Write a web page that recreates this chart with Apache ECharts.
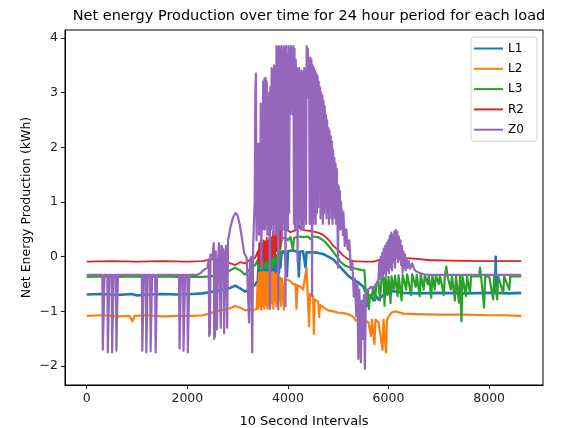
<!DOCTYPE html>
<html>
<head>
<meta charset="utf-8">
<script src="https://cdn.jsdelivr.net/npm/echarts@6/dist/echarts.min.js"></script>
<style>
html,body{margin:0;padding:0;background:#fff;}
#chart{width:583px;height:428px;}
</style>
</head>
<body>
<div id="chart"></div>
<script>
// ---- data (x = 10-second interval index, y = kWh) ----
const seriesNames = ["L1", "L2", "L3", "R2", "Z0"];
const xTicks = [0, 2000, 4000, 6000, 8000];
const yTicks = [-2, -1, 0, 1, 2, 3, 4];

const L1 = [[0,-0.69],[300,-0.68],[600,-0.70],[900,-0.68],[1000,-0.71],[1200,-0.69],[1500,-0.68],[1800,-0.69],[2100,-0.68],[2300,-0.67],[2450,-0.65],[2600,-0.62],[2750,-0.60],[2850,-0.57],[2950,-0.53],[3050,-0.58],[3150,-0.64],[3250,-0.58],[3350,-0.51],
[3400,-0.45],[3415,-0.15],[3430,-0.45],[3445,-0.12],[3460,-0.4],[3475,-0.15],[3490,-0.5],[3505,-0.12],[3520,-0.42],[3535,-0.1],[3550,-0.4],[3565,-0.15],[3580,-0.45],[3595,-0.1],[3610,-0.38],[3625,-0.12],[3640,-0.4],[3655,-0.1],[3670,-0.45],[3685,-0.12],[3700,-0.35],[3715,-0.1],[3730,-0.4],[3745,-0.08],[3760,-0.3],[3775,-0.1],[3790,-0.35],[3805,-0.05],[3820,-0.3],[3835,-0.05],[3850,-0.2],[3870,0.05],
[3900,0.1],[3950,0.05],[3980,-0.35],[4000,0.1],[4100,0.12],[4200,0.08],[4217,-0.36],[4235,0.09],[4300,0.1],[4350,-0.2],[4370,0.08],[4500,0.08],[4600,0.07],[4700,0.05],[4800,0.0],[4900,-0.05],[5000,-0.15],[5100,-0.25],[5200,-0.35],[5300,-0.42],[5400,-0.47],[5500,-0.55],[5550,-0.66],[5600,-0.75],[5650,-0.7],[5700,-0.8],[5750,-0.72],[5800,-0.78],[5900,-0.7],[6000,-0.65],[6100,-0.63],[6300,-0.66],[6600,-0.67],[7000,-0.66],[7500,-0.67],[8000,-0.66],[8120,-0.66],[8130,0.0],[8140,-0.66],[8400,-0.67],[8639,-0.66]];

const L2 = [[0,-1.08],[300,-1.07],[600,-1.09],[850,-1.08],[910,-1.18],[950,-1.08],[1200,-1.07],[1500,-1.09],[1800,-1.08],[2100,-1.08],[2300,-1.07],[2450,-1.04],[2550,-1.0],[2650,-0.98],[2750,-0.97],[2850,-0.94],[2950,-0.9],[3050,-0.93],[3150,-0.98],[3250,-0.97],[3380,-0.96],
[3395,-0.5],[3410,-0.95],[3425,-0.3],[3440,-0.9],[3455,-0.28],[3470,-0.97],[3485,-0.3],[3500,-0.9],[3515,-0.27],[3530,-0.95],[3545,-0.3],[3560,-0.88],[3575,-0.28],[3590,-0.95],[3605,-0.3],[3620,-0.9],[3635,-0.27],[3650,-0.92],[3665,-0.3],[3680,-0.85],[3695,-0.28],[3710,-0.95],[3725,-0.3],[3740,-0.8],[3755,-0.32],[3770,-0.9],[3785,-0.3],[3800,-0.85],[3815,-0.35],[3830,-0.8],[3845,-0.38],[3860,-0.9],[3880,-0.4],
[3900,-0.42],[3920,-0.97],[3940,-0.42],[4000,-0.42],[4050,-0.45],[4100,-0.5],[4150,-0.5],[4170,-0.95],[4190,-0.52],[4250,-0.55],[4300,-0.6],[4370,-0.2],[4390,-0.62],[4420,-1.27],[4440,-0.68],[4500,-0.72],[4514,-1.41],[4530,-0.78],[4600,-0.82],[4620,-1.1],[4640,-0.88],[4700,-0.92],[4800,-0.98],[4900,-1.0],[5000,-1.02],[5100,-1.03],[5200,-1.05],[5300,-1.1],[5350,-1.17],[5450,-1.15],[5500,-1.3],[5520,-1.15],[5600,-1.2],[5650,-1.45],[5670,-1.15],[5720,-1.6],[5740,-1.15],[5800,-1.2],[5880,-1.7],[5900,-1.15],[5950,-1.75],[5970,-1.15],[6000,-1.1],[6060,-1.02],[6140,-1.0],[6300,-1.04],[6600,-1.05],[7000,-1.06],[7500,-1.06],[8000,-1.07],[8300,-1.07],[8639,-1.08]];

const L3 = [[0,-0.37],[300,-0.36],[600,-0.37],[900,-0.36],[1200,-0.37],[1500,-0.36],[1800,-0.37],[2100,-0.37],[2300,-0.37],[2450,-0.36],[2600,-0.34],[2750,-0.31],[2850,-0.25],[2950,-0.2],[3050,-0.25],[3150,-0.33],[3250,-0.22],[3350,-0.15],
[3400,-0.06],[3415,-0.22],[3430,-0.02],[3445,-0.2],[3460,0.0],[3475,-0.24],[3490,-0.03],[3505,-0.18],[3520,0.0],[3535,-0.2],[3550,-0.02],[3565,-0.22],[3580,0.0],[3595,-0.18],[3610,0.02],[3625,-0.2],[3640,0.0],[3655,-0.15],[3670,0.03],[3685,-0.2],[3700,0.0],[3715,-0.15],[3730,0.05],[3745,-0.12],[3760,0.02],[3775,-0.1],[3790,0.05],[3805,-0.1],[3820,0.08],[3835,-0.05],[3850,0.15],[3870,0.3],
[3900,0.34],[3950,0.35],[4000,0.3],[4050,0.36],[4100,0.12],[4120,0.34],[4200,0.37],[4300,0.36],[4400,0.37],[4450,0.32],[4500,0.37],[4600,0.36],[4700,0.3],[4750,0.26],[4850,0.15],[4950,0.03],[5050,-0.1],[5150,-0.17],[5250,-0.2],[5350,-0.22],[5450,-0.24],[5520,-0.25],
[5550,-0.66],[5570,-0.9],[5590,-0.6],[5610,-0.96],[5630,-0.7],[5660,-0.75],[5700,-0.55],[5730,-0.8],[5760,-0.5],[5800,-0.45],[5830,-0.8],[5860,-0.4],[5900,-0.38],[5920,-0.9],[5940,-0.38],[5980,-0.7],[6000,-0.37],[6040,-0.85],[6060,-0.36],[6100,-0.6],[6130,-0.35],[6180,-0.72],[6200,-0.34],[6260,-0.8],[6280,-0.33],[6350,-0.6],[6370,-0.32],[6450,-0.7],[6470,-0.32],[6540,-0.55],[6560,-0.33],[6620,-0.72],[6640,-0.33],[6700,-0.6],[6720,-0.33],[6780,-0.5],[6800,-0.34],[6850,-0.75],[6870,-0.34],[6920,-0.6],[6940,-0.34],[7000,-0.5],[7020,-0.34],[7100,-0.7],[7120,-0.35],[7150,-0.18],[7170,-0.35],[7240,-0.6],[7260,-0.34],[7320,-0.8],[7340,-0.35],[7400,-0.84],[7420,-0.36],[7450,-1.18],[7470,-0.36],[7540,-0.72],[7560,-0.36],[7620,-0.66],[7640,-0.36],[7800,-0.36],[7820,-0.2],[7840,-0.36],[7900,-0.93],[7920,-0.36],[8000,-0.36],[8080,-0.78],[8100,-0.36],[8160,-0.78],[8180,-0.36],[8280,-0.66],[8300,-0.36],[8400,-0.6],[8420,-0.36],[8639,-0.36]];

const R2 = [[0,-0.09],[500,-0.08],[1000,-0.09],[1500,-0.08],[2000,-0.09],[2300,-0.08],[2450,-0.05],[2600,-0.04],[2750,-0.06],[2850,-0.12],[2950,-0.15],[3050,-0.1],[3150,-0.12],[3250,-0.05],[3350,-0.02],
[3400,0.1],[3415,-0.12],[3430,0.25],[3445,-0.1],[3460,0.3],[3475,-0.15],[3490,0.25],[3505,-0.05],[3520,0.3],[3535,-0.1],[3550,0.28],[3565,-0.05],[3580,0.35],[3595,-0.08],[3610,0.3],[3625,0.0],[3640,0.4],[3655,-0.05],[3670,0.35],[3685,0.0],[3700,0.45],[3715,0.05],[3730,0.4],[3745,0.0],[3760,0.5],[3775,0.1],[3790,0.53],[3805,0.05],[3820,0.5],[3835,0.15],[3850,0.55],[3870,0.3],[3890,0.5],
[3950,0.5],[4050,0.45],[4150,0.48],[4217,0.58],[4250,0.5],[4350,0.48],[4475,0.47],[4600,0.44],[4700,0.4],[4800,0.32],[4900,0.2],[5000,0.12],[5100,0.02],[5207,-0.05],[5300,-0.08],[5500,-0.09],[5700,-0.09],[5850,-0.05],[6000,0.0],[6150,-0.02],[6450,-0.03],[6800,-0.06],[7200,-0.07],[7800,-0.08],[8100,-0.08],[8639,-0.08]];

const Z0 = [[0,-0.33],[310,-0.33],[320,-1.7],[345,-1.73],[355,-0.33],[410,-0.33],[420,-1.75],[440,-1.75],[450,-0.33],[495,-0.33],[505,-1.75],[525,-1.75],[535,-0.33],[580,-0.33],[590,-1.72],[610,-1.75],[620,-0.33],
[1095,-0.33],[1105,-1.72],[1125,-1.72],[1135,-0.33],[1175,-0.33],[1185,-1.75],[1205,-1.75],[1215,-0.33],[1260,-0.33],[1270,-1.73],[1290,-1.75],[1300,-0.33],[1360,-0.33],[1370,-1.75],[1390,-1.75],[1400,-0.33],
[1835,-0.33],[1845,-1.68],[1865,-1.7],[1875,-0.33],[1915,-0.33],[1925,-1.72],[1945,-1.75],[1955,-0.33],[2000,-0.33],[2010,-1.75],[2030,-1.75],[2040,-0.33],
[2200,-0.33],[2260,-0.3],[2330,-0.24],[2400,-0.2],[2425,-0.05],[2435,-1.45],[2450,-1.4],[2460,0.04],[2500,0.0],[2525,0.25],[2534,-1.5],[2550,-1.45],[2565,0.1],[2590,-1.33],[2605,-0.2],[2630,0.25],[2665,-1.3],[2680,0.2],[2710,0.13],[2732,-1.4],[2745,0.0],[2770,0.2],[2792,-1.3],[2810,0.3],[2860,0.55],[2910,0.72],[2960,0.8],[3000,0.75],[3040,0.6],[3080,0.37],[3130,0.07],[3180,-0.02],[3227,-1.2],[3245,-0.1],[3270,0.0],[3290,-1.75],[3310,0.25],
[3340,1.0],[3352,3.0],[3364,3.35],[3376,0.3],[3388,1.8],[3400,0.6],[3412,2.07],[3424,0.4],[3436,1.5],[3448,0.8],[3460,2.8],[3472,-0.2],[3484,1.9],[3496,0.7],[3508,3.2],[3520,0.5],[3532,3.25],[3544,0.5],[3556,3.27],[3568,0.6],[3580,3.2],[3592,0.4],[3604,2.9],[3616,0.5],[3628,3.0],[3640,-0.96],[3652,3.1],[3664,0.5],[3676,3.45],[3688,0.6],[3700,3.4],[3712,0.4],[3724,3.5],[3736,0.6],[3748,3.45],[3760,0.4],
[3772,3.85],[3784,0.5],[3796,3.8],[3808,-0.96],[3820,3.85],[3832,0.5],[3844,3.8],[3856,0.6],[3868,3.85],[3880,0.3],[3892,3.75],[3904,0.6],[3916,3.85],[3928,0.5],[3940,3.8],[3952,-0.9],[3964,3.85],[3976,0.6],[3988,3.7],[4000,0.5],[4012,3.85],[4024,0.8],[4036,3.8],[4048,2.6],[4060,3.85],[4072,2.7],[4084,3.8],[4096,2.6],[4108,3.85],[4120,0.6],[4132,3.8],[4144,0.5],[4156,3.6],[4168,0.7],
[4180,3.45],[4192,-0.1],[4204,3.4],[4216,0.6],[4228,3.45],[4240,0.7],[4252,3.35],[4264,0.5],[4276,3.4],[4288,0.6],[4300,3.35],[4312,0.5],[4324,3.45],[4336,0.7],[4348,3.4],[4360,0.6],[4372,3.85],[4384,2.9],[4396,3.8],[4408,3.1],[4420,3.6],[4432,0.6],[4444,3.64],[4456,0.7],[4468,3.6],[4480,-0.72],[4492,3.5],[4504,0.6],[4516,3.45],[4528,0.7],[4540,3.4],[4552,0.6],[4564,3.35],[4576,0.8],[4588,3.3],[4600,0.9],
[4612,3.2],[4624,1.6],[4636,3.1],[4648,0.7],[4660,3.0],[4672,0.8],[4684,2.95],[4696,0.6],[4708,2.85],[4720,0.8],[4732,2.75],[4744,0.9],[4756,2.6],[4768,0.7],[4780,2.5],[4792,0.8],[4804,2.35],[4816,0.6],[4828,2.3],[4840,0.9],[4852,2.2],[4864,0.7],[4876,2.1],[4888,0.6],[4900,1.95],[4912,0.8],[4924,1.8],[4936,0.7],[4948,1.7],[4960,0.6],[4972,1.6],[4984,0.7],[4996,-0.2],[5008,1.3],[5020,0.6],[5032,1.2],[5044,0.5],[5056,1.0],[5068,0.6],[5080,0.85],[5092,0.4],[5104,0.8],
[5130,0.2],[5160,0.5],[5190,0.13],[5220,0.3],[5250,-0.24],[5280,-0.1],[5310,-0.73],[5330,-0.4],[5360,-1.09],[5380,-0.5],[5400,-1.87],[5420,-0.6],[5450,-1.93],[5470,-0.8],[5490,-1.5],[5510,-0.7],[5530,-2.05],[5550,-0.66],[5600,-0.6],[5650,-0.55],[5700,-0.6],[5750,-0.5],
[5800,-0.42],[5815,-0.1],[5830,-0.4],[5845,0.0],[5860,-0.35],[5875,0.07],[5890,-0.38],[5905,0.15],[5920,-0.3],[5935,0.2],[5950,-0.35],[5965,0.25],[5980,-0.25],[5995,0.3],[6010,-0.3],[6025,0.38],[6040,-0.2],[6055,0.44],[6070,-0.25],[6085,0.4],[6100,-0.1],[6115,0.46],[6130,-0.2],[6145,0.49],[6160,0.0],[6175,0.45],[6190,-0.1],[6205,0.37],[6220,-0.05],[6235,0.3],[6250,-0.15],[6265,0.2],[6280,-0.29],[6295,0.1],[6310,-0.2],[6325,0.05],[6340,-0.25],[6360,-0.05],[6380,-0.2],[6400,-0.08],[6430,-0.22],[6470,-0.12],[6520,-0.25],[6600,-0.29],[6700,-0.32],[6800,-0.33],[8639,-0.33]];

const seriesData = [L1, L2, L3, R2, Z0];
const colors = ["#1f77b4", "#ff7f0e", "#2ca02c", "#d62728", "#9467bd"];
const widths = [2.6, 2.2, 2.2, 1.8, 2.2];

const chart = echarts.init(document.getElementById('chart'), null, {renderer: 'canvas'});
const minus = v => String(v).replace('-', '\u2212');
const font = 'DejaVu Sans';

chart.setOption({
  animation: false,
  backgroundColor: '#fff',
  color: colors,
  title: {
    text: 'Net energy Production over time for 24 hour period for each load',
    left: 304, top: 4, textAlign: 'center',
    textStyle: {fontFamily: font, fontSize: 14.5, fontWeight: 'normal', color: '#000'}
  },
  legend: {
    data: seriesNames,
    orient: 'vertical',
    right: 46, top: 37,
    icon: 'rect', itemWidth: 29, itemHeight: 2, itemGap: 6.3, itemTextGap: 10,
    padding: [4.5, 13, 4.5, 3],
    borderColor: '#d0d0d0', borderWidth: 1, borderRadius: 3,
    backgroundColor: 'rgba(255,255,255,0.8)',
    textStyle: {fontFamily: font, fontSize: 12, color: '#000', lineHeight: 14}
  },
  grid: {left: 65, right: 40, top: 30, bottom: 43, outerBoundsMode: 'none', show: true, borderColor: '#000', borderWidth: 1, backgroundColor: 'transparent'},
  xAxis: {
    type: 'value', min: -432, max: 9071,
    name: '10 Second Intervals', nameLocation: 'middle', nameGap: 30, nameMoveOverlap: false,
    nameTextStyle: {fontFamily: font, fontSize: 13, color: '#000'},
    axisLine: {show: true, onZero: false, lineStyle: {color: '#000', width: 1}},
    axisTick: {show: true, length: 4, customValues: xTicks, lineStyle: {color: '#000', width: 0.9}},
    axisLabel: {customValues: xTicks, fontFamily: font, fontSize: 12.5, color: '#222', margin: 7, formatter: minus},
    splitLine: {show: false}
  },
  yAxis: {
    type: 'value', min: -2.345, max: 4.145,
    name: 'Net Energy Production (kWh)', nameLocation: 'middle', nameGap: 32, nameRotate: 90, nameMoveOverlap: false,
    nameTextStyle: {fontFamily: font, fontSize: 12.5, color: '#000'},
    axisLine: {show: true, onZero: false, lineStyle: {color: '#000', width: 1}},
    axisTick: {show: true, length: 4, customValues: yTicks, lineStyle: {color: '#000', width: 0.9}},
    axisLabel: {customValues: yTicks, fontFamily: font, fontSize: 12.5, color: '#222', margin: 7, formatter: minus},
    splitLine: {show: false}
  },
  series: seriesNames.map((n, i) => ({
    name: n, type: 'line', data: seriesData[i],
    showSymbol: false, symbol: 'none',
    lineStyle: {width: widths[i], color: colors[i], join: 'round'},
    itemStyle: {color: colors[i]},
    emphasis: {disabled: true}
  }))
});
</script>
</body>
</html>
